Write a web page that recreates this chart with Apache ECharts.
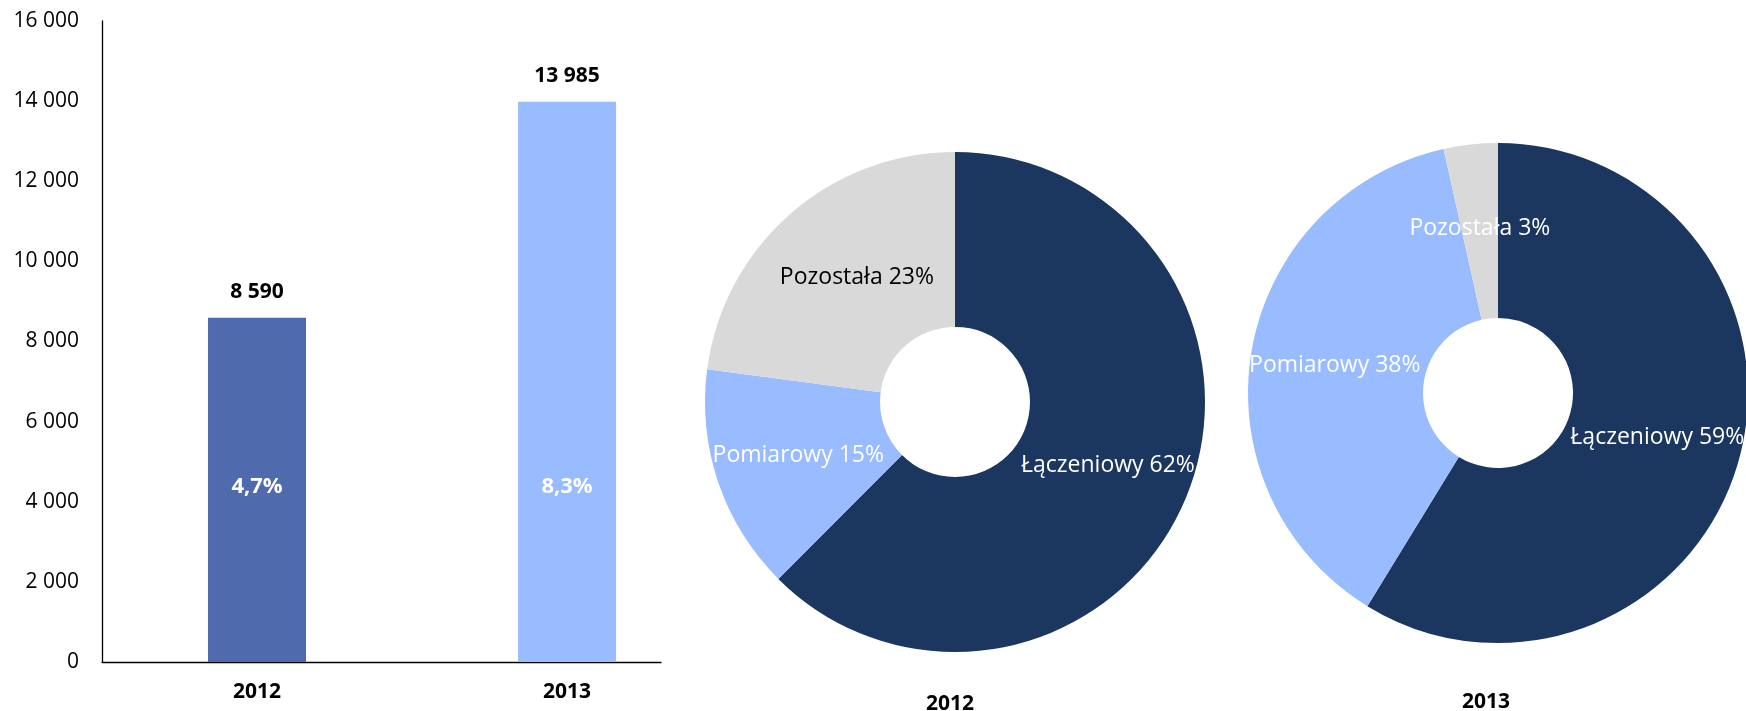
<!DOCTYPE html>
<html>
<head>
<meta charset="utf-8">
<script src="https://cdn.jsdelivr.net/npm/echarts@6.0.0/dist/echarts.min.js"></script>
<style>
html, body { margin: 0; padding: 0; background: #fff; }
#chart { width: 1746px; height: 711px; }
</style>
</head>
<body>
<div id="chart"></div>
<script>
// dane
var years = ['2012', '2013'];
var totals = [8590, 13985];
var growth = ['4,7%', '8,3%'];
var segments = ['Łączeniowy', 'Pomiarowy', 'Pozostała'];
var share2012 = [62.49, 14.6, 22.91];
var share2013 = [58.75, 37.76, 3.49];

var barColors = ['#4F6BAD', '#99BBFF'];
var segColors = ['#1B365F', '#99BBFF', '#D9D9D9'];
var font = 'Open Sans';

function fmt(v) {
    return String(v).replace(/\B(?=(\d{3})+(?!\d))/g, ' ');
}

// kolor i przesuniecie etykiet w kazdym pierscieniu
function pieData(values, labelColors, paddings) {
    return segments.map(function (name, i) {
        return {
            name: name,
            value: values[i],
            itemStyle: {color: segColors[i]},
            label: {color: labelColors[i], padding: paddings[i]}
        };
    });
}

var pieBase = {
    type: 'pie',
    radius: [75, 250],
    startAngle: 90,
    clockwise: true,
    silent: true,
    label: {
        show: true,
        position: 'inside',
        fontFamily: font,
        fontSize: 23,
        formatter: function (p) { return p.name + ' ' + Math.round(p.value) + '%'; }
    },
    labelLine: {show: false},
    emphasis: {disabled: true}
};

var myChart = echarts.init(document.getElementById('chart'));

var option = {
    animation: false,
    textStyle: {fontFamily: font},
    title: [
        {text: '2012', left: 921, top: 689, textStyle: {fontFamily: font, fontSize: 21, fontWeight: 'bold', color: '#000'}},
        {text: '2013', left: 1457, top: 687, textStyle: {fontFamily: font, fontSize: 21, fontWeight: 'bold', color: '#000'}}
    ],
    grid: {left: 102, top: 21, width: 559, bottom: 49},
    xAxis: {
        type: 'value',
        min: -0.5,
        max: 1.303,
        interval: 0.5,
        axisLine: {show: true, onZero: false, lineStyle: {color: '#000', width: 1.3}},
        axisTick: {show: false},
        splitLine: {show: false},
        axisLabel: {
            margin: 20,
            fontFamily: font,
            fontSize: 21,
            fontWeight: 'bold',
            color: '#000',
            formatter: function (v) { return years[v] || ''; }
        }
    },
    yAxis: {
        type: 'value',
        min: 0,
        max: 16000,
        interval: 2000,
        axisLine: {show: true, onZero: false, lineStyle: {color: '#000', width: 1.3}},
        axisTick: {show: false},
        splitLine: {show: false},
        axisLabel: {
            margin: 23,
            fontFamily: font,
            fontSize: 21,
            color: '#000',
            formatter: function (v) { return fmt(v); }
        }
    },
    series: [
        {
            type: 'bar',
            barWidth: 98,
            silent: true,
            data: totals.map(function (v, i) {
                return {value: [i, v], itemStyle: {color: barColors[i]}};
            }),
            label: {
                show: true,
                position: 'top',
                distance: 15,
                fontFamily: font,
                fontSize: 21,
                fontWeight: 'bold',
                color: '#000',
                formatter: function (p) { return fmt(p.value[1]); }
            }
        },
        {
            // etykiety dynamiki wewnatrz slupkow
            type: 'bar',
            barWidth: 98,
            barGap: '-100%',
            silent: true,
            data: totals.map(function (v, i) { return [i, v]; }),
            itemStyle: {color: 'rgba(0,0,0,0)'},
            label: {
                show: true,
                position: 'insideBottom',
                distance: 164,
                fontFamily: font,
                fontSize: 22,
                fontWeight: 'bold',
                color: '#fff',
                formatter: function (p) { return growth[p.dataIndex]; }
            }
        },
        Object.assign({}, pieBase, {
            center: [955, 402],
            data: pieData(share2012, ['#fff', '#fff', '#000'], [[6, 0, 0, 0], [0, 0, 0, 0], [0, 0, 22, 22]])
        }),
        Object.assign({}, pieBase, {
            center: [1498, 393],
            data: pieData(share2013, ['#fff', '#fff', '#fff'], [[0, 0, 0, 0], [8, 0, 0, 0], [0, 0, 0, 0]])
        })
    ]
};

myChart.setOption(option);
</script>
</body>
</html>
